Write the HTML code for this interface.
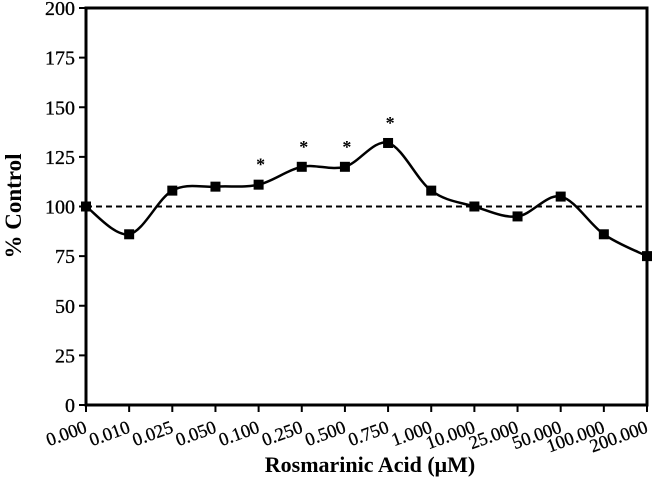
<!DOCTYPE html>
<html><head><meta charset="utf-8"><style>
body{margin:0;background:#fff}
svg{display:block;font-family:"Liberation Serif",serif}
</style></head><body>
<svg width="653" height="477" id="c"></svg>
<script>
const categories=["0.000","0.010","0.025","0.050","0.100","0.250","0.500","0.750","1.000","10.000","25.000","50.000","100.000","200.000"];
const values=[100,86,108,110,111,120,120,132,108,100,95,105,86,75];
const significant=[0,0,0,0,1,1,1,1,0,0,0,0,0,0];
const yTicks=[0,25,50,75,100,125,150,175,200];
const controlLevel=100;
const L=86,R=647,T=8,B=405;
const xs=i=>L+i*(R-L)/(categories.length-1);
const ys=v=>B-(v/200)*(B-T);
const svg=document.getElementById('c');
const NS='http://www.w3.org/2000/svg';
function mk(tag,attrs,parent){const e=document.createElementNS(NS,tag);for(const k in attrs)e.setAttribute(k,attrs[k]);(parent||svg).appendChild(e);return e;}
let f=mk('rect',{x:L,y:T,width:R-L,height:B-T,fill:'none',stroke:'#000','stroke-width':3});


yTicks.forEach(v=>{
  let t=mk('line',{x1:L-7,x2:L,y1:ys(v),y2:ys(v),stroke:'#000','stroke-width':2});
  
  
  let tx=mk('text',{x:L-11,y:ys(v)+7,'text-anchor':'end','font-size':20,stroke:'#000','stroke-width':0.3});
  tx.textContent=v;
  
  
});
categories.forEach((c,i)=>{
  let t=mk('line',{x1:xs(i),x2:xs(i),y1:B,y2:B+7,stroke:'#000','stroke-width':2});
  
  
  let x=xs(i)+2,y=B+27;
  let tx=mk('text',{x:x,y:y,'text-anchor':'end','font-size':18.5,stroke:'#000','stroke-width':0.3,transform:`rotate(-20 ${x} ${y})`});
  tx.textContent=c;
  
  
});
let dl=mk('line',{x1:L,x2:R,y1:ys(controlLevel),y2:ys(controlLevel),stroke:'#000','stroke-width':2,'stroke-dasharray':'6,4'});


const P=values.map((v,i)=>[xs(i),ys(v)]);
let d=`M${P[0][0]},${P[0][1]}`;
for(let i=0;i<P.length-1;i++){
  const p0=P[Math.max(0,i-1)],p1=P[i],p2=P[i+1],p3=P[Math.min(P.length-1,i+2)];
  const k=1/6;
  d+=` C${p1[0]+(p2[0]-p0[0])*k},${p1[1]+(p2[1]-p0[1])*k} ${p2[0]-(p3[0]-p1[0])*k},${p2[1]-(p3[1]-p1[1])*k} ${p2[0]},${p2[1]}`;
}
let ln=mk('path',{d:d,fill:'none',stroke:'#000','stroke-width':2.5});


values.forEach((v,i)=>{
  let m=mk('rect',{x:xs(i)-5,y:ys(v)-5,width:10,height:10,fill:'#000'});
  
  
  if(significant[i]){
    let s=mk('text',{x:xs(i)+2,y:ys(v)-14,'text-anchor':'middle','font-size':18,'font-weight':'bold'});
    s.textContent='*';
    
    
  }
});
let xt=mk('text',{x:370,y:472,'text-anchor':'middle','font-size':22,'font-weight':'bold'});
xt.textContent='Rosmarinic Acid (μM)';


let yt=mk('text',{x:0,y:0,'text-anchor':'middle','font-size':23,'font-weight':'bold',transform:'translate(21 206) rotate(-90)'});
yt.textContent='% Control';


</script>
</body></html>
